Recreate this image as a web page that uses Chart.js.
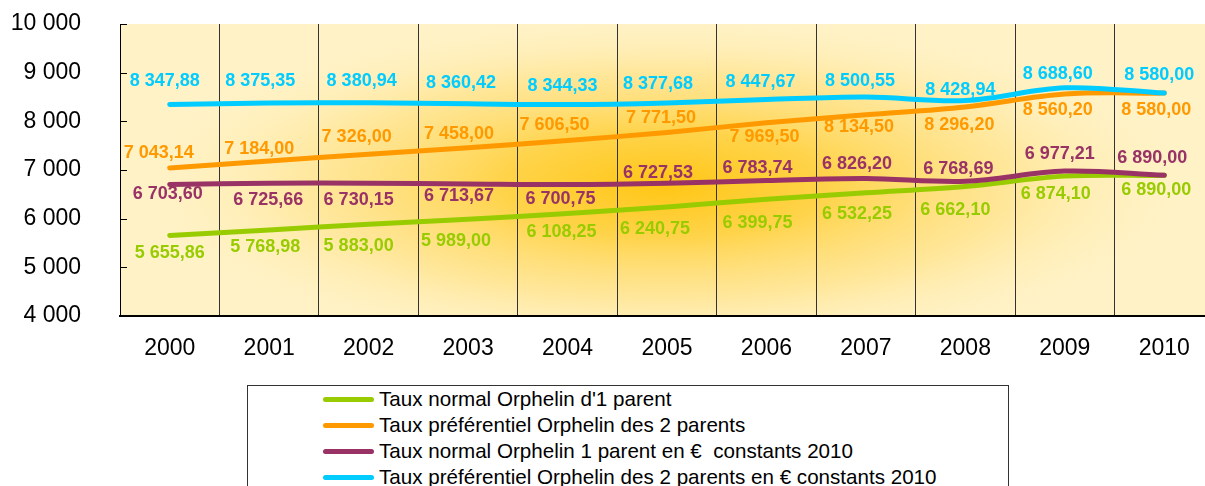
<!DOCTYPE html>
<html lang="fr">
<head>
<meta charset="utf-8">
<title>Taux Orphelin 2000-2010</title>
<script src="https://cdn.jsdelivr.net/npm/chart.js@4/dist/chart.umd.min.js"></script>
<style>
  html, body { margin: 0; padding: 0; background: #fff; overflow: hidden; }
  #wrap { position: relative; width: 1205px; height: 486px; overflow: hidden; }
  #chart { position: absolute; left: 0; top: 0; }
  #legend {
    position: absolute; left: 247px; top: 385px; width: 762px; height: 130px;
    border: 1px solid #333; box-sizing: border-box; background: #fff;
    font-family: "Liberation Sans", Arial, sans-serif; font-size: 20.6px; color: #000;
  }
  #legend .row { position: absolute; left: 0; height: 26px; line-height: 26px; white-space: pre; }
  #legend .sw { position: absolute; left: 75px; top: 10.5px; width: 51px; height: 5px; border-radius: 3px; }
  #legend .tx { position: absolute; left: 131px; top: 0; }
</style>
</head>
<body>
<div id="wrap">
  <canvas id="chart" width="1214" height="370"></canvas>
  <div id="legend"></div>
</div>
<script>
// Années
const years = ['2000', '2001', '2002', '2003', '2004', '2005', '2006', '2007', '2008', '2009', '2010'];

// Montants annuels (€)
const tauxNormal1Parent = [5655.86, 5768.98, 5883.00, 5989.00, 6108.25, 6240.75, 6399.75, 6532.25, 6662.10, 6874.10, 6890.00];
const tauxPref2Parents = [7043.14, 7184.00, 7326.00, 7458.00, 7606.50, 7771.50, 7969.50, 8134.50, 8296.20, 8560.20, 8580.00];
const tauxNormal1ParentConst = [6703.60, 6725.66, 6730.15, 6713.67, 6700.75, 6727.53, 6783.74, 6826.20, 6768.69, 6977.21, 6890.00];
const tauxPref2ParentsConst = [8347.88, 8375.35, 8380.94, 8360.42, 8344.33, 8377.68, 8447.67, 8500.55, 8428.94, 8688.60, 8580.00];

// Graduations de l'axe des montants
const yTicks = [4000, 5000, 6000, 7000, 8000, 9000, 10000];

// Décalage des étiquettes de valeur par rapport à chaque point [dx, dy] en pixels
const shiftNormal = [[0, 18], [-4, 17], [-10, 22], [-12, 22], [-6, 19], [-12, 22], [-9, 24], [-9, 21], [-10, 24], [-9, 18], [-8, 15]];
const shiftPref = [[-11, -15], [-10, -12], [-12, -17], [-9, -14], [-13, -15], [-6, -14], [-2, 14], [-7, 12], [-6, 18], [-7, 16], [-8, 17]];
const shiftNormalConst = [[-2, 10], [-1, 17], [-10, 17], [-9, 12], [-7, 14], [-9, -10], [-9, -12], [-9, -14], [-7, -12], [-5, -17], [-12, -17]];
const shiftPrefConst = [[-5, -23], [-9, -22], [-7, -22], [-7, -21], [-5, -19], [-9, -19], [-6, -18], [-6, -16], [-5, -10], [-7, -14], [-5, -18]];

const FONT = '"Liberation Sans", Arial, sans-serif';

// Format français : espace pour les milliers, virgule décimale
function frNum(v, dec) {
  const s = Number(v).toFixed(dec);
  const parts = s.split('.');
  const ent = parts[0].replace(/\B(?=(\d{3})+(?!\d))/g, ' ');
  return parts.length > 1 ? ent + ',' + parts[1] : ent;
}

const series = [
  { label: "Taux normal Orphelin d'1 parent", data: tauxNormal1Parent, color: '#99CC00', shift: shiftNormal, order: 4 },
  { label: 'Taux préférentiel Orphelin des 2 parents', data: tauxPref2Parents, color: '#FF9900', shift: shiftPref, order: 3 },
  { label: 'Taux normal Orphelin 1 parent en €  constants 2010', data: tauxNormal1ParentConst, color: '#993366', shift: shiftNormalConst, order: 2 },
  { label: 'Taux préférentiel Orphelin des 2 parents en € constants 2010', data: tauxPref2ParentsConst, color: '#00CCFF', shift: shiftPrefConst, order: 1 }
];

// Fond de la zone de tracé : jaune pâle avec halo orangé au centre
const plotBackground = {
  id: 'plotBackground',
  beforeDraw(chart) {
    const { ctx, chartArea: a } = chart;
    ctx.save();
    ctx.beginPath();
    ctx.rect(a.left, a.top, a.right - a.left, a.bottom - a.top);
    ctx.clip();
    ctx.fillStyle = '#FFF2C6';
    ctx.fillRect(a.left, a.top, a.right - a.left, a.bottom - a.top);
    const cx = 665, cy = 185, rx = 540, ry = 175;
    ctx.translate(cx, cy);
    ctx.scale(rx / ry, 1);
    const g = ctx.createRadialGradient(0, 0, 0, 0, 0, ry);
    g.addColorStop(0, 'rgba(255,198,20,1)');
    g.addColorStop(0.3, 'rgba(255,208,60,0.9)');
    g.addColorStop(0.65, 'rgba(255,222,120,0.55)');
    g.addColorStop(1, 'rgba(255,242,198,0)');
    ctx.fillStyle = g;
    ctx.fillRect(-cx * ry / rx - 50, -cy - 50, 3000, 800);
    ctx.restore();
  }
};

// Petites graduations intérieures sur l'axe vertical
const innerTicks = {
  id: 'innerTicks',
  afterDraw(chart) {
    const { ctx, chartArea: a } = chart;
    const y = chart.scales.y;
    ctx.save();
    ctx.strokeStyle = '#000';
    ctx.lineWidth = 1;
    y.ticks.forEach(t => {
      const py = Math.round(y.getPixelForValue(t.value)) + 0.5;
      ctx.beginPath();
      ctx.moveTo(a.left, py);
      ctx.lineTo(a.left + 7, py);
      ctx.stroke();
    });
    ctx.restore();
  }
};

// Étiquettes de valeur au-dessus / au-dessous des points
const valueLabels = {
  id: 'valueLabels',
  afterDatasetsDraw(chart) {
    const { ctx } = chart;
    ctx.save();
    ctx.font = 'bold 18px ' + FONT;
    ctx.textAlign = 'center';
    ctx.textBaseline = 'middle';
    chart.data.datasets.forEach((ds, i) => {
      const meta = chart.getDatasetMeta(i);
      ctx.fillStyle = ds.borderColor;
      meta.data.forEach((pt, j) => {
        const s = ds.labelShift[j];
        ctx.fillText(frNum(ds.data[j], 2), pt.x + s[0], pt.y + s[1]);
      });
    });
    ctx.restore();
  }
};

const chart = new Chart(document.getElementById('chart'), {
  type: 'line',
  data: {
    labels: years,
    datasets: series.map(s => ({
      label: s.label,
      data: s.data,
      borderColor: s.color,
      backgroundColor: s.color,
      borderWidth: 5,
      borderCapStyle: 'round',
      borderJoinStyle: 'round',
      pointRadius: 0,
      pointHoverRadius: 0,
      tension: 0.35,
      fill: false,
      order: s.order,
      labelShift: s.shift
    }))
  },
  options: {
    responsive: false,
    animation: false,
    events: [],
    layout: { padding: { top: 24, left: 0, right: 0, bottom: 0 } },
    plugins: { legend: { display: false }, tooltip: { enabled: false } },
    scales: {
      x: {
        offset: true,
        grid: { offset: true, color: '#333', lineWidth: 1, drawTicks: false },
        border: { color: '#000', width: 2 },
        ticks: { color: '#000', font: { family: FONT, size: 23 }, padding: 19, maxRotation: 0, autoSkip: false },
        afterFit(scale) { scale.height = 54; scale.paddingLeft = 0; scale.paddingRight = 0; }
      },
      y: {
        min: yTicks[0],
        max: yTicks[yTicks.length - 1],
        afterBuildTicks(scale) { scale.ticks = yTicks.map(v => ({ value: v })); },
        ticks: { color: '#000', font: { family: FONT, size: 23 }, padding: 39, callback: v => frNum(v, 0) },
        grid: { drawOnChartArea: false, drawTicks: false },
        border: { color: '#000', width: 1 },
        afterFit(scale) { scale.width = 120; scale.paddingTop = 0; scale.paddingBottom = 0; }
      }
    }
  },
  plugins: [plotBackground, innerTicks, valueLabels]
});

// Légende encadrée construite à partir des séries du graphique
const legend = document.getElementById('legend');
chart.data.datasets.forEach((ds, i) => {
  const row = document.createElement('div');
  row.className = 'row';
  row.style.top = (i * 26) + 'px';
  const sw = document.createElement('span');
  sw.className = 'sw';
  sw.style.background = ds.borderColor;
  const tx = document.createElement('span');
  tx.className = 'tx';
  tx.textContent = ds.label;
  row.appendChild(sw);
  row.appendChild(tx);
  legend.appendChild(row);
});
</script>
</body>
</html>
